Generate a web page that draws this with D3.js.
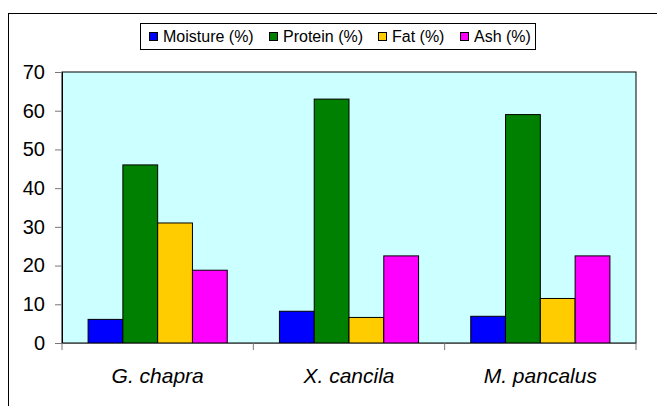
<!DOCTYPE html>
<html><head><meta charset="utf-8">
<script src="https://cdn.jsdelivr.net/npm/d3@7/dist/d3.min.js"></script>
<style>body{margin:0;background:#fff}svg{display:block}text{font-family:"Liberation Sans",Arial,sans-serif}</style>
</head><body>
<script>
const categories = ["G. chapra", "X. cancila", "M. pancalus"];
const seriesNames = ["Moisture (%)", "Protein (%)", "Fat (%)", "Ash (%)"];
const moisture = [6.1, 8.2, 6.9];
const protein = [46, 63, 59];
const fat = [31, 6.6, 11.5];
const ash = [18.8, 22.5, 22.5];
const colors = ["#0000ff", "#008000", "#ffcc00", "#ff00ff"];
const yTicks = [0, 10, 20, 30, 40, 50, 60, 70];

const series = [moisture, protein, fat, ash];
const W = 657, H = 406;
const m = {left: 62, right: 636, top: 72, bottom: 343};

const svg = d3.select("body").append("svg").attr("width", W).attr("height", H);
svg.append("rect").attr("x", 8.5).attr("y", 13.5).attr("width", 660).attr("height", 420)
  .attr("fill", "#fff").attr("stroke", "#000").attr("stroke-width", 1);

const x = d3.scaleBand().domain(categories).range([m.left, m.right]);
const y = d3.scaleLinear().domain([0, 70]).range([m.bottom, m.top]);
const x1 = d3.scaleBand().domain(d3.range(4)).range([0, x.bandwidth()]).paddingOuter(0.75).paddingInner(0);

svg.append("rect").attr("x", m.left).attr("y", m.top).attr("width", m.right - m.left).attr("height", m.bottom - m.top)
  .attr("fill", "#ccffff").attr("stroke", "#000").attr("stroke-width", 1);

categories.forEach((c, i) => {
  series.forEach((s, j) => {
    svg.append("rect")
      .attr("x", x(c) + x1(j)).attr("y", y(s[i]))
      .attr("width", x1.bandwidth()).attr("height", y(0) - y(s[i]))
      .attr("fill", colors[j]).attr("stroke", "#000").attr("stroke-width", 1);
  });
});

// y axis
const ya = svg.append("g").attr("transform", `translate(${m.left},0)`)
  .call(d3.axisLeft(y).tickValues(yTicks).tickSize(7).tickPadding(10));
ya.attr("font-size", null).attr("font-family", null);
ya.select(".domain").attr("stroke", "#000");
ya.selectAll(".tick line").attr("stroke", "#777");
ya.selectAll("text").style("font-size", "20px").attr("fill", "#000");

// x axis
svg.append("line").attr("x1", m.left).attr("x2", m.right).attr("y1", m.bottom + 0.5).attr("y2", m.bottom + 0.5).attr("stroke", "#555");
const bounds = categories.map(c => x(c)).concat([m.right]);
bounds.forEach(b => {
  svg.append("line").attr("x1", b).attr("x2", b).attr("y1", m.bottom).attr("y2", m.bottom + 7).attr("stroke", "#777");
});
categories.forEach(c => {
  svg.append("text").attr("x", x(c) + x.bandwidth() / 2).attr("y", 383)
    .attr("text-anchor", "middle").style("font-size", "21px").attr("font-style", "italic").text(c);
});

// legend
const lg = svg.append("g");
lg.append("rect").attr("x", 140.5).attr("y", 23.5).attr("width", 395).attr("height", 26)
  .attr("fill", "#fff").attr("stroke", "#000");
const lx = [149, 269, 378, 460];
seriesNames.forEach((n, j) => {
  lg.append("rect").attr("x", lx[j] + 0.5).attr("y", 32.5).attr("width", 8).attr("height", 8)
    .attr("fill", colors[j]).attr("stroke", "#000");
  lg.append("text").attr("x", lx[j] + 14).attr("y", 42).style("font-size", "16px").text(n);
});
</script>
</body></html>
